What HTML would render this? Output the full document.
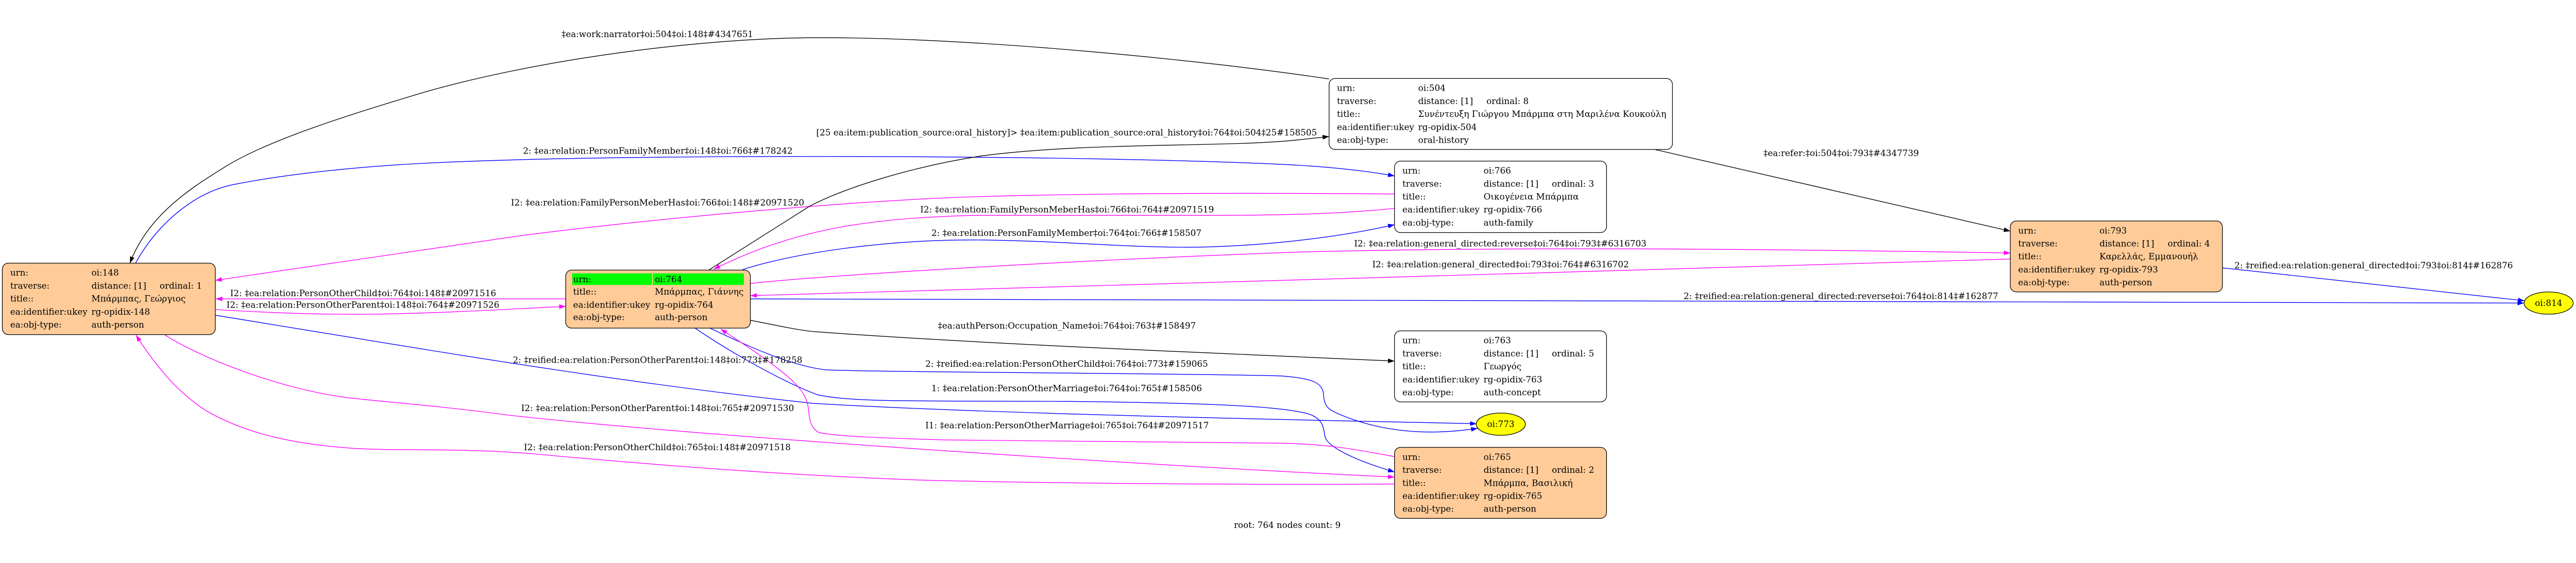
<!DOCTYPE html>
<html>
<head>
<meta charset="utf-8">
<style>
  html,body{margin:0;padding:0;background:#fff;overflow:hidden;width:100%;height:100%;}
  svg{display:block;width:100vw;height:100vh;}
  text{font-family:"DejaVu Serif","Liberation Serif",serif;font-size:18.67px;fill:#000;}
</style>
</head>
<body>
<svg viewBox="0 0 5551 1093" preserveAspectRatio="xMidYMid meet" xmlns="http://www.w3.org/2000/svg">
<defs>
  <marker id="ak" markerUnits="userSpaceOnUse" markerWidth="16" markerHeight="12" refX="14" refY="5" orient="auto"><path d="M0,0L14,5L0,10z" fill="#000"/></marker>
  <marker id="ab" markerUnits="userSpaceOnUse" markerWidth="16" markerHeight="12" refX="14" refY="5" orient="auto"><path d="M0,0L14,5L0,10z" fill="#0000ff"/></marker>
  <marker id="am" markerUnits="userSpaceOnUse" markerWidth="16" markerHeight="12" refX="14" refY="5" orient="auto"><path d="M0,0L14,5L0,10z" fill="#ff00ff"/></marker>
</defs>
<rect x="0" y="0" width="5551" height="1093" fill="#fff"/>

<!-- EDGES -->
<g fill="none" stroke-width="1.5" stroke-linejoin="round">
  <path stroke="#000" marker-end="url(#ak)" d="M2864,110 C2600,70 2100,20 1757,21 C1500,22 1150,70 909,140 C760,185 580,240 484,300 C420,340 320,400 280,507"/>
  <path stroke="#0000ff" marker-end="url(#ab)" d="M292,507 C340,420 420,355 501,338 C600,318 750,300 909,292 C1100,282 1400,277 1757,277 C2200,277 2600,285 2800,296 C2880,301 2950,309 3005,319"/>
  <path stroke="#ff00ff" marker-end="url(#am)" d="M3005,358 C2600,354 2200,358 2000,368 C1750,381 1400,412 1120,448 L464,544"/>
  <path stroke="#000" marker-end="url(#ak)" d="M1527,522 L1745,384 C1820,345 1960,300 2114,276 C2350,245 2650,258 2800,241 L2864,234"/>
  <path stroke="#ff00ff" marker-end="url(#am)" d="M3005,389 C2900,399 2800,404 2600,404 L2100,404 C1850,410 1700,440 1538,520"/>
  <path stroke="#0000ff" marker-end="url(#ab)" d="M1600,521 C1700,488 1900,455 2114,457 C2300,459 2450,476 2600,472 C2750,468 2900,448 3005,424"/>
  <path stroke="#ff00ff" marker-end="url(#am)" d="M1616,551 C1700,540 2200,505 2800,483 C3300,470 3900,478 4332,485"/>
  <path stroke="#ff00ff" marker-end="url(#am)" d="M4332,498 C4100,504 3200,532 2800,543 C2300,557 1800,572 1617,577"/>
  <path stroke="#0000ff" marker-end="url(#ab)" d="M1616,584 L5439,593"/>
  <path stroke="#000" marker-end="url(#ak)" d="M3566,262 L4332,438"/>
  <path stroke="#0000ff" marker-end="url(#ab)" d="M4789,517 L5440,588"/>
  <path stroke="#000" marker-end="url(#ak)" d="M1616,630 C1680,642 1720,652 1760,655 C2100,680 2600,700 2800,709 L3005,718"/>
  <path stroke="#0000ff" marker-end="url(#ab)" d="M1530,647 C1600,680 1700,728 1780,737 C1900,742 2600,745 2760,750 C2830,755 2850,765 2852,790 C2854,815 2860,820 2880,830 C2960,865 3060,882 3184,863"/>
  <path stroke="#0000ff" marker-end="url(#ab)" d="M463,619 C900,690 1300,760 1750,809 C2100,830 2700,843 3182,853"/>
  <path stroke="#0000ff" marker-end="url(#ab)" d="M1498,647 C1560,690 1680,760 1760,790 C1830,808 2000,803 2300,805 C2600,808 2760,815 2820,832 C2850,842 2852,860 2855,880 C2860,905 2930,935 3005,957"/>
  <path stroke="#ff00ff" marker-end="url(#am)" d="M3005,924 C2900,904 2850,897 2760,895 L2040,888 C1900,884 1800,880 1765,872 C1745,862 1744,840 1742,820 C1738,790 1720,770 1690,745 C1640,705 1600,680 1553,649"/>
  <path stroke="#ff00ff" marker-end="url(#am)" d="M353,660 C420,705 600,780 759,798 C850,808 950,815 1100,835 C1500,880 2500,945 3005,968"/>
  <path stroke="#ff00ff" marker-end="url(#am)" d="M3005,983 C2700,985 2300,982 2000,975 C1700,965 1400,941 1150,918 C1000,905 850,912 760,906 C650,898 540,880 446,826 C380,785 330,720 293,662"/>
  <path stroke="#ff00ff" marker-end="url(#am)" d="M1219,584 L465,584"/>
  <path stroke="#ff00ff" marker-end="url(#am)" d="M464,607 C600,615 700,618 800,617 C950,615 1100,606 1219,600"/>
</g>

<!-- EDGE LABELS -->
<g>
  <text x="1210" y="20" textLength="413" lengthAdjust="spacingAndGlyphs">‡ea:work:narrator‡oi:504‡oi:148‡#4347651</text>
  <text x="1127" y="271" textLength="581" lengthAdjust="spacingAndGlyphs">2: ‡ea:relation:PersonFamilyMember‡oi:148‡oi:766‡#178242</text>
  <text x="1101" y="383" textLength="632" lengthAdjust="spacingAndGlyphs">I2: ‡ea:relation:FamilyPersonMeberHas‡oi:766‡oi:148‡#20971520</text>
  <text x="1759" y="232" textLength="1079" lengthAdjust="spacingAndGlyphs">[25 ea:item:publication_source:oral_history]&gt; ‡ea:item:publication_source:oral_history‡oi:764‡oi:504‡25#158505</text>
  <text x="1983" y="398" textLength="633" lengthAdjust="spacingAndGlyphs">I2: ‡ea:relation:FamilyPersonMeberHas‡oi:766‡oi:764‡#20971519</text>
  <text x="2007" y="448" textLength="582" lengthAdjust="spacingAndGlyphs">2: ‡ea:relation:PersonFamilyMember‡oi:764‡oi:766‡#158507</text>
  <text x="2918" y="471" textLength="630" lengthAdjust="spacingAndGlyphs">I2: ‡ea:relation:general_directed:reverse‡oi:764‡oi:793‡#6316703</text>
  <text x="2957" y="516" textLength="553" lengthAdjust="spacingAndGlyphs">I2: ‡ea:relation:general_directed‡oi:793‡oi:764‡#6316702</text>
  <text x="3628" y="584" textLength="678" lengthAdjust="spacingAndGlyphs">2: ‡reified:ea:relation:general_directed:reverse‡oi:764‡oi:814‡#162877</text>
  <text x="3800" y="276" textLength="335" lengthAdjust="spacingAndGlyphs">‡ea:refer:‡oi:504‡oi:793‡#4347739</text>
  <text x="4815" y="518" textLength="600" lengthAdjust="spacingAndGlyphs">2: ‡reified:ea:relation:general_directed‡oi:793‡oi:814‡#162876</text>
  <text x="2021" y="648" textLength="556" lengthAdjust="spacingAndGlyphs">‡ea:authPerson:Occupation_Name‡oi:764‡oi:763‡#158497</text>
  <text x="1994" y="730" textLength="609" lengthAdjust="spacingAndGlyphs">2: ‡reified:ea:relation:PersonOtherChild‡oi:764‡oi:773‡#159065</text>
  <text x="1105" y="722" textLength="624" lengthAdjust="spacingAndGlyphs">2: ‡reified:ea:relation:PersonOtherParent‡oi:148‡oi:773‡#178258</text>
  <text x="2007" y="783" textLength="583" lengthAdjust="spacingAndGlyphs">1: ‡ea:relation:PersonOtherMarriage‡oi:764‡oi:765‡#158506</text>
  <text x="1994" y="863" textLength="611" lengthAdjust="spacingAndGlyphs">I1: ‡ea:relation:PersonOtherMarriage‡oi:765‡oi:764‡#20971517</text>
  <text x="1123" y="826" textLength="588" lengthAdjust="spacingAndGlyphs">I2: ‡ea:relation:PersonOtherParent‡oi:148‡oi:765‡#20971530</text>
  <text x="1129" y="910" textLength="575" lengthAdjust="spacingAndGlyphs">I2: ‡ea:relation:PersonOtherChild‡oi:765‡oi:148‡#20971518</text>
  <text x="496" y="578" textLength="573" lengthAdjust="spacingAndGlyphs">I2: ‡ea:relation:PersonOtherChild‡oi:764‡oi:148‡#20971516</text>
  <text x="488" y="603" textLength="588" lengthAdjust="spacingAndGlyphs">I2: ‡ea:relation:PersonOtherParent‡oi:148‡oi:764‡#20971526</text>
  <text x="2659" y="1078" textLength="230" lengthAdjust="spacingAndGlyphs">root: 764 nodes count: 9</text>
</g>

<!-- NODES -->
<g>
  <rect x="5" y="507" width="459" height="154" rx="13" ry="13" fill="#ffcc99" stroke="#000" stroke-width="1.4"/>
  <text x="22" y="534">urn:</text>
  <text x="22" y="562">traverse:</text>
  <text x="22" y="590">title::</text>
  <text x="22" y="618">ea:identifier:ukey</text>
  <text x="22" y="646">ea:obj-type:</text>
  <text x="197" y="534">oi:148</text>
  <text x="197" y="562">distance: [1]</text>
  <text x="344" y="562">ordinal: 1</text>
  <text x="197" y="590">Μπάρμπας, Γεώργιος</text>
  <text x="197" y="618">rg-opidix-148</text>
  <text x="197" y="646">auth-person</text>
</g>
<g>
  <rect x="1219" y="522" width="398" height="125" rx="13" ry="13" fill="#ffcc99" stroke="#000" stroke-width="1.4"/>
  <rect x="1233" y="529" width="172" height="25" fill="#00ff00"/>
  <rect x="1407" y="529" width="196" height="25" fill="#00ff00"/>
  <text x="1235" y="548">urn:</text>
  <text x="1235" y="575">title::</text>
  <text x="1235" y="603">ea:identifier:ukey</text>
  <text x="1235" y="630">ea:obj-type:</text>
  <text x="1411" y="548">oi:764</text>
  <text x="1411" y="575">Μπάρμπας, Γιάννης</text>
  <text x="1411" y="603">rg-opidix-764</text>
  <text x="1411" y="630">auth-person</text>
</g>
<g>
  <rect x="2864" y="109" width="740" height="153" rx="13" ry="13" fill="#fff" stroke="#000" stroke-width="1.4"/>
  <text x="2881" y="136">urn:</text>
  <text x="2881" y="164">traverse:</text>
  <text x="2881" y="192">title::</text>
  <text x="2881" y="220">ea:identifier:ukey</text>
  <text x="2881" y="248">ea:obj-type:</text>
  <text x="3056" y="136">oi:504</text>
  <text x="3056" y="164">distance: [1]</text>
  <text x="3203" y="164">ordinal: 8</text>
  <text x="3056" y="192">Συνέντευξη Γιώργου Μπάρμπα στη Μαριλένα Κουκούλη</text>
  <text x="3056" y="220">rg-opidix-504</text>
  <text x="3056" y="248">oral-history</text>
</g>
<g>
  <rect x="3005" y="287" width="457" height="154" rx="13" ry="13" fill="#fff" stroke="#000" stroke-width="1.4"/>
  <text x="3022" y="314">urn:</text>
  <text x="3022" y="342">traverse:</text>
  <text x="3022" y="370">title::</text>
  <text x="3022" y="398">ea:identifier:ukey</text>
  <text x="3022" y="426">ea:obj-type:</text>
  <text x="3197" y="314">oi:766</text>
  <text x="3197" y="342">distance: [1]</text>
  <text x="3344" y="342">ordinal: 3</text>
  <text x="3197" y="370">Οικογένεια Μπάρμπα</text>
  <text x="3197" y="398">rg-opidix-766</text>
  <text x="3197" y="426">auth-family</text>
</g>
<g>
  <rect x="3005" y="653" width="457" height="153" rx="13" ry="13" fill="#fff" stroke="#000" stroke-width="1.4"/>
  <text x="3022" y="680">urn:</text>
  <text x="3022" y="708">traverse:</text>
  <text x="3022" y="736">title::</text>
  <text x="3022" y="764">ea:identifier:ukey</text>
  <text x="3022" y="792">ea:obj-type:</text>
  <text x="3197" y="680">oi:763</text>
  <text x="3197" y="708">distance: [1]</text>
  <text x="3344" y="708">ordinal: 5</text>
  <text x="3197" y="736">Γεωργός</text>
  <text x="3197" y="764">rg-opidix-763</text>
  <text x="3197" y="792">auth-concept</text>
</g>
<g>
  <rect x="3005" y="904" width="457" height="153" rx="13" ry="13" fill="#ffcc99" stroke="#000" stroke-width="1.4"/>
  <text x="3022" y="931">urn:</text>
  <text x="3022" y="959">traverse:</text>
  <text x="3022" y="987">title::</text>
  <text x="3022" y="1015">ea:identifier:ukey</text>
  <text x="3022" y="1043">ea:obj-type:</text>
  <text x="3197" y="931">oi:765</text>
  <text x="3197" y="959">distance: [1]</text>
  <text x="3344" y="959">ordinal: 2</text>
  <text x="3197" y="987">Μπάρμπα, Βασιλική</text>
  <text x="3197" y="1015">rg-opidix-765</text>
  <text x="3197" y="1043">auth-person</text>
</g>
<g>
  <rect x="4332" y="416" width="457" height="153" rx="13" ry="13" fill="#ffcc99" stroke="#000" stroke-width="1.4"/>
  <text x="4349" y="443">urn:</text>
  <text x="4349" y="471">traverse:</text>
  <text x="4349" y="499">title::</text>
  <text x="4349" y="527">ea:identifier:ukey</text>
  <text x="4349" y="555">ea:obj-type:</text>
  <text x="4524" y="443">oi:793</text>
  <text x="4524" y="471">distance: [1]</text>
  <text x="4671" y="471">ordinal: 4</text>
  <text x="4524" y="499">Καρελλάς, Εμμανουήλ</text>
  <text x="4524" y="527">rg-opidix-793</text>
  <text x="4524" y="555">auth-person</text>
</g>
<g>
  <ellipse cx="3234" cy="854" rx="53" ry="24" fill="#ffff00" stroke="#000" stroke-width="1.4"/>
  <text x="3234" y="860" text-anchor="middle">oi:773</text>
</g>
<g>
  <ellipse cx="5492" cy="593" rx="53" ry="24" fill="#ffff00" stroke="#000" stroke-width="1.4"/>
  <text x="5492" y="599" text-anchor="middle">oi:814</text>
</g>
</svg>
</body>
</html>
